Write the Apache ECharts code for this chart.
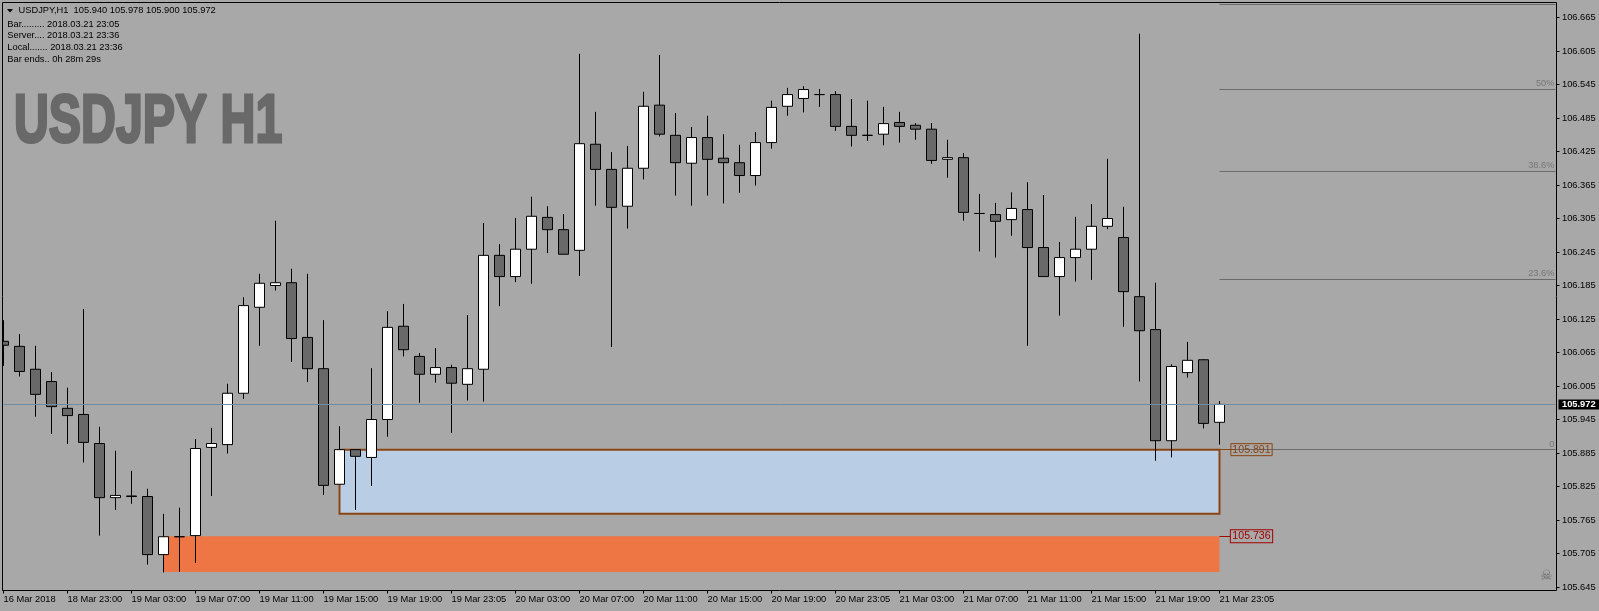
<!DOCTYPE html>
<html>
<head>
<meta charset="utf-8">
<style>html,body{margin:0;padding:0;background:#a8a8a8}#c{width:1599px;height:611px}</style>
<script src="https://cdn.jsdelivr.net/npm/echarts@6/dist/echarts.min.js"></script>
</head>
<body>
<div id="c"></div>
<script>
const opens = [106.085,106.076,106.035,106.013,105.965,105.954,105.902,105.805,105.808,105.807,105.703,105.735,105.737,105.895,105.900,105.992,106.146,106.185,106.190,106.092,106.036,105.829,105.891,105.877,105.945,106.112,106.058,106.026,106.038,106.008,106.035,106.239,106.201,106.250,106.307,106.285,106.248,106.438,106.393,106.327,106.395,106.508,106.454,106.404,106.450,106.413,106.405,106.382,106.441,106.506,106.520,106.527,106.527,106.470,106.454,106.456,106.477,106.472,106.465,106.411,106.414,106.314,106.312,106.303,106.321,106.253,106.201,106.235,106.250,106.291,106.271,106.165,106.106,105.907,106.029,106.052,105.940];
const highs = [106.123,106.098,106.077,106.030,106.002,106.143,105.932,105.889,105.853,105.821,105.776,105.787,105.910,105.930,106.009,106.164,106.206,106.301,106.215,106.206,106.123,105.933,105.892,106.037,106.139,106.152,106.064,106.073,106.043,106.132,106.297,106.259,106.306,106.344,106.327,106.313,106.600,106.496,106.424,106.435,106.532,106.598,106.494,106.469,106.489,106.456,106.437,106.460,106.516,106.539,106.542,106.537,106.533,106.519,106.516,106.505,106.496,106.476,106.476,106.446,106.422,106.349,106.333,106.352,106.370,106.347,106.263,106.308,106.331,106.412,106.326,106.636,106.190,106.044,106.084,106.053,105.978];
const lows = [106.041,106.022,105.950,105.919,105.901,105.868,105.737,105.783,105.794,105.685,105.671,105.672,105.688,105.808,105.884,105.982,106.077,106.176,106.048,106.012,105.810,105.829,105.783,105.826,105.914,106.058,105.975,106.011,105.921,105.979,105.977,106.148,106.191,106.188,106.243,106.241,106.202,106.328,106.075,106.287,106.375,106.452,106.346,106.328,106.346,106.332,106.351,106.364,106.430,106.489,106.495,106.505,106.462,106.434,106.444,106.436,106.441,106.446,106.403,106.378,106.301,106.246,106.235,106.274,106.077,106.201,106.131,106.192,106.195,106.286,106.111,106.013,105.871,105.877,106.020,105.929,105.900];
const closes = [106.078,106.031,105.990,105.968,105.952,105.904,105.805,105.809,105.807,105.703,105.735,105.735,105.893,105.902,105.992,106.149,106.189,106.190,106.090,106.036,105.827,105.891,105.879,105.945,106.110,106.070,106.026,106.038,106.010,106.036,106.239,106.201,106.250,106.309,106.285,106.241,106.439,106.393,106.325,106.395,106.506,106.456,106.405,106.450,106.411,106.405,106.382,106.441,106.504,106.527,106.536,106.527,106.470,106.454,106.454,106.475,106.470,106.465,106.409,106.414,106.316,106.314,106.300,106.323,106.253,106.201,106.235,106.250,106.291,106.305,106.174,106.104,105.907,106.040,106.051,105.938,105.972];

const xTickLabels = ['16 Mar 2018','18 Mar 23:00','19 Mar 03:00','19 Mar 07:00','19 Mar 11:00','19 Mar 15:00','19 Mar 19:00','19 Mar 23:05','20 Mar 03:00','20 Mar 07:00','20 Mar 11:00','20 Mar 15:00','20 Mar 19:00','20 Mar 23:05','21 Mar 03:00','21 Mar 07:00','21 Mar 11:00','21 Mar 15:00','21 Mar 19:00','21 Mar 23:05'];
const yTickValues = [105.645,105.705,105.765,105.825,105.885,105.945,106.005,106.065,106.125,106.185,106.245,106.305,106.365,106.425,106.485,106.545,106.605,106.665];

const fibLevels = [106.6887,106.5365,106.3896,106.1961,105.891];
const fibNames = ['','50%','38.6%','23.6%','0'];
const currentPrice = 105.972;
const blueZone = [105.891,105.776];
const orangeZone = [105.736,105.672];
const infoLines = ['Bar......... 2018.03.21 23:05','Server.... 2018.03.21 23:36','Local....... 2018.03.21 23:36','Bar ends.. 0h 28m 29s'];
const headerText = 'USDJPY,H1  105.940 105.978 105.900 105.972';
const watermark = 'USDJPY H1';

const BG = '#a8a8a8', FONT = '"Liberation Sans", Arial, sans-serif', FS = 9.3;
const SLOTS = 98;
const firstBar = 0, lastBar = opens.length - 1, fibEnd = SLOTS - 1;
const categories = Array.from({length: SLOTS}, (_, i) => (i % 4 === 0 && i <= lastBar) ? xTickLabels[i / 4] : '');
const candleData = opens.map((o, i) => [o, closes[i], lows[i], highs[i]]);
const showTick = i => i % 4 === 0 && i <= lastBar;

const txt = (text, x, y, extra) => ({type: 'text', z: 200, silent: true, x, y,
  style: Object.assign({text, font: FS + 'px ' + FONT, fill: '#000', textVerticalAlign: 'middle'}, extra || {})});

const chart = echarts.init(document.getElementById('c'), null, {renderer: 'canvas'});
chart.setOption({
  animation: false,
  backgroundColor: BG,
  grid: {left: -4.5, top: 2.5, width: SLOTS * 16, height: 588, containLabel: false, outerBoundsMode: 'none'},
  xAxis: {
    type: 'category', data: categories, boundaryGap: true,
    axisLine: {show: false},
    axisTick: {show: true, length: 3, alignWithLabel: true, interval: (i) => showTick(i), lineStyle: {color: '#000', width: 1}},
    axisLabel: {show: true, interval: (i) => showTick(i), align: 'left', margin: 4, color: '#000', fontFamily: FONT, fontSize: FS, hideOverlap: false},
    splitLine: {show: false}
  },
  yAxis: {
    type: 'value', position: 'right', offset: -7,
    min: 105.6387, max: 106.6919, scale: true,
    axisLine: {show: false},
    axisTick: {show: true, length: 3, customValues: yTickValues, lineStyle: {color: '#000', width: 1}},
    axisLabel: {show: true, customValues: yTickValues, margin: 5.5, color: '#000', fontFamily: FONT, fontSize: FS, formatter: v => Number(v).toFixed(3)},
    splitLine: {show: false}
  },
  series: [
    {
      type: 'line', name: 'zones', z: 1, data: [], silent: true, symbol: 'none',
      markArea: {
        silent: true,
        data: [
          [{coord: [21, blueZone[0]], itemStyle: {color: '#b9cde5', opacity: 1}}, {coord: [lastBar, blueZone[1]]}],
          [{coord: [10, orangeZone[0]], itemStyle: {color: '#ee7544', opacity: 1}}, {coord: [lastBar, orangeZone[1]]}]
        ]
      },
      markLine: {
        silent: true, symbol: 'none', label: {show: false}, animation: false,
        lineStyle: {color: '#708a9f', width: 1, type: 'solid'},
        data: [[{coord: [firstBar, currentPrice]}, {coord: [fibEnd, currentPrice]}]]
      }
    },
    {
      type: 'candlestick', name: 'USDJPY,H1', z: 2, data: candleData, barWidth: 10, silent: true,
      itemStyle: {color: '#ffffff', color0: '#696969', borderColor: '#000', borderColor0: '#000', borderColorDoji: '#000', borderWidth: 1}
    },
    {
      type: 'line', name: 'overlays', z: 3, data: [], silent: true, symbol: 'none',
      markArea: {
        silent: true,
        data: [[{coord: [21, blueZone[0]], itemStyle: {color: 'rgba(0,0,0,0)', borderColor: '#8b4513', borderWidth: 2, opacity: 1}}, {coord: [lastBar, blueZone[1]]}]]
      },
      markLine: {
        silent: true, symbol: 'none', animation: false,
        data: fibLevels.map((v, i) => [
          {coord: [lastBar, v], lineStyle: {color: '#6a6a6a', width: 1, type: 'solid'},
           label: {show: !!fibNames[i], position: 'insideEndTop', formatter: fibNames[i], color: '#777', fontFamily: FONT, fontSize: FS, distance: 1}},
          {coord: [fibEnd, v]}
        ]).concat([
          [{coord: [lastBar, blueZone[0]], lineStyle: {color: '#8b4513', width: 1, type: 'solid'}, label: {show: false}}, {coord: [lastBar + 1, blueZone[0]]}],
          [{coord: [lastBar, orangeZone[0]], lineStyle: {color: '#a00000', width: 1, type: 'solid'}, label: {show: false}}, {coord: [lastBar + 1, orangeZone[0]]}]
        ])
      },
      markPoint: {
        silent: true, symbol: 'rect', symbolSize: 0, animation: false,
        data: [
          {coord: [lastBar + 2, blueZone[0]], label: {show: true, position: 'inside', formatter: blueZone[0].toFixed(3), color: '#8b4513', fontFamily: FONT, fontSize: 10.6, borderColor: '#8b4513', borderWidth: 1, padding: [1, 1.5, 0, 1.5]}},
          {coord: [lastBar + 2, orangeZone[0]], label: {show: true, position: 'inside', formatter: orangeZone[0].toFixed(3), color: '#a00000', fontFamily: FONT, fontSize: 10.6, borderColor: '#a00000', backgroundColor: BG, borderWidth: 1, padding: [1, 1.5, 0, 1.5]}},
          {coord: [fibEnd, currentPrice], label: {show: true, position: 'right', distance: 3, formatter: currentPrice.toFixed(3), color: '#fff', fontFamily: FONT, fontSize: FS, fontWeight: 'bold', backgroundColor: '#000', padding: [0, 8, 0, 3.5], lineHeight: 10}}
        ]
      }
    }
  ],
  graphic: [
    {type: 'rect', z: 190, silent: true, shape: {x: 0, y: 0, width: 2.5, height: 611}, style: {fill: BG}},
    {type: 'rect', z: 191, silent: true, shape: {x: 2.5, y: 2.5, width: 1554, height: 588}, style: {fill: null, stroke: '#000', lineWidth: 1}},
    {type: 'polygon', z: 200, silent: true, shape: {points: [[7, 9], [13, 9], [10, 12.5]]}, style: {fill: '#000'}},
    txt(headerText, 18.5, 10.7),
    ...infoLines.map((s, i) => txt(s, 7.3, 24 + i * 11.9)),
    {type: 'text', z: 150, silent: true, x: 14, y: 89, scaleX: 0.71, scaleY: 1,
      style: {text: watermark, font: 'bold 68px "Liberation Sans Narrow","Liberation Sans",sans-serif', fill: '#696969', stroke: '#696969', lineWidth: 3, textVerticalAlign: 'top'}},
    {type: 'text', z: 150, silent: true, x: 1540, y: 576,
      style: {text: '\u2620', font: '14px "DejaVu Sans"', fill: '#6a6a6a', textVerticalAlign: 'middle'}}
  ]
});
</script>
</body>
</html>
